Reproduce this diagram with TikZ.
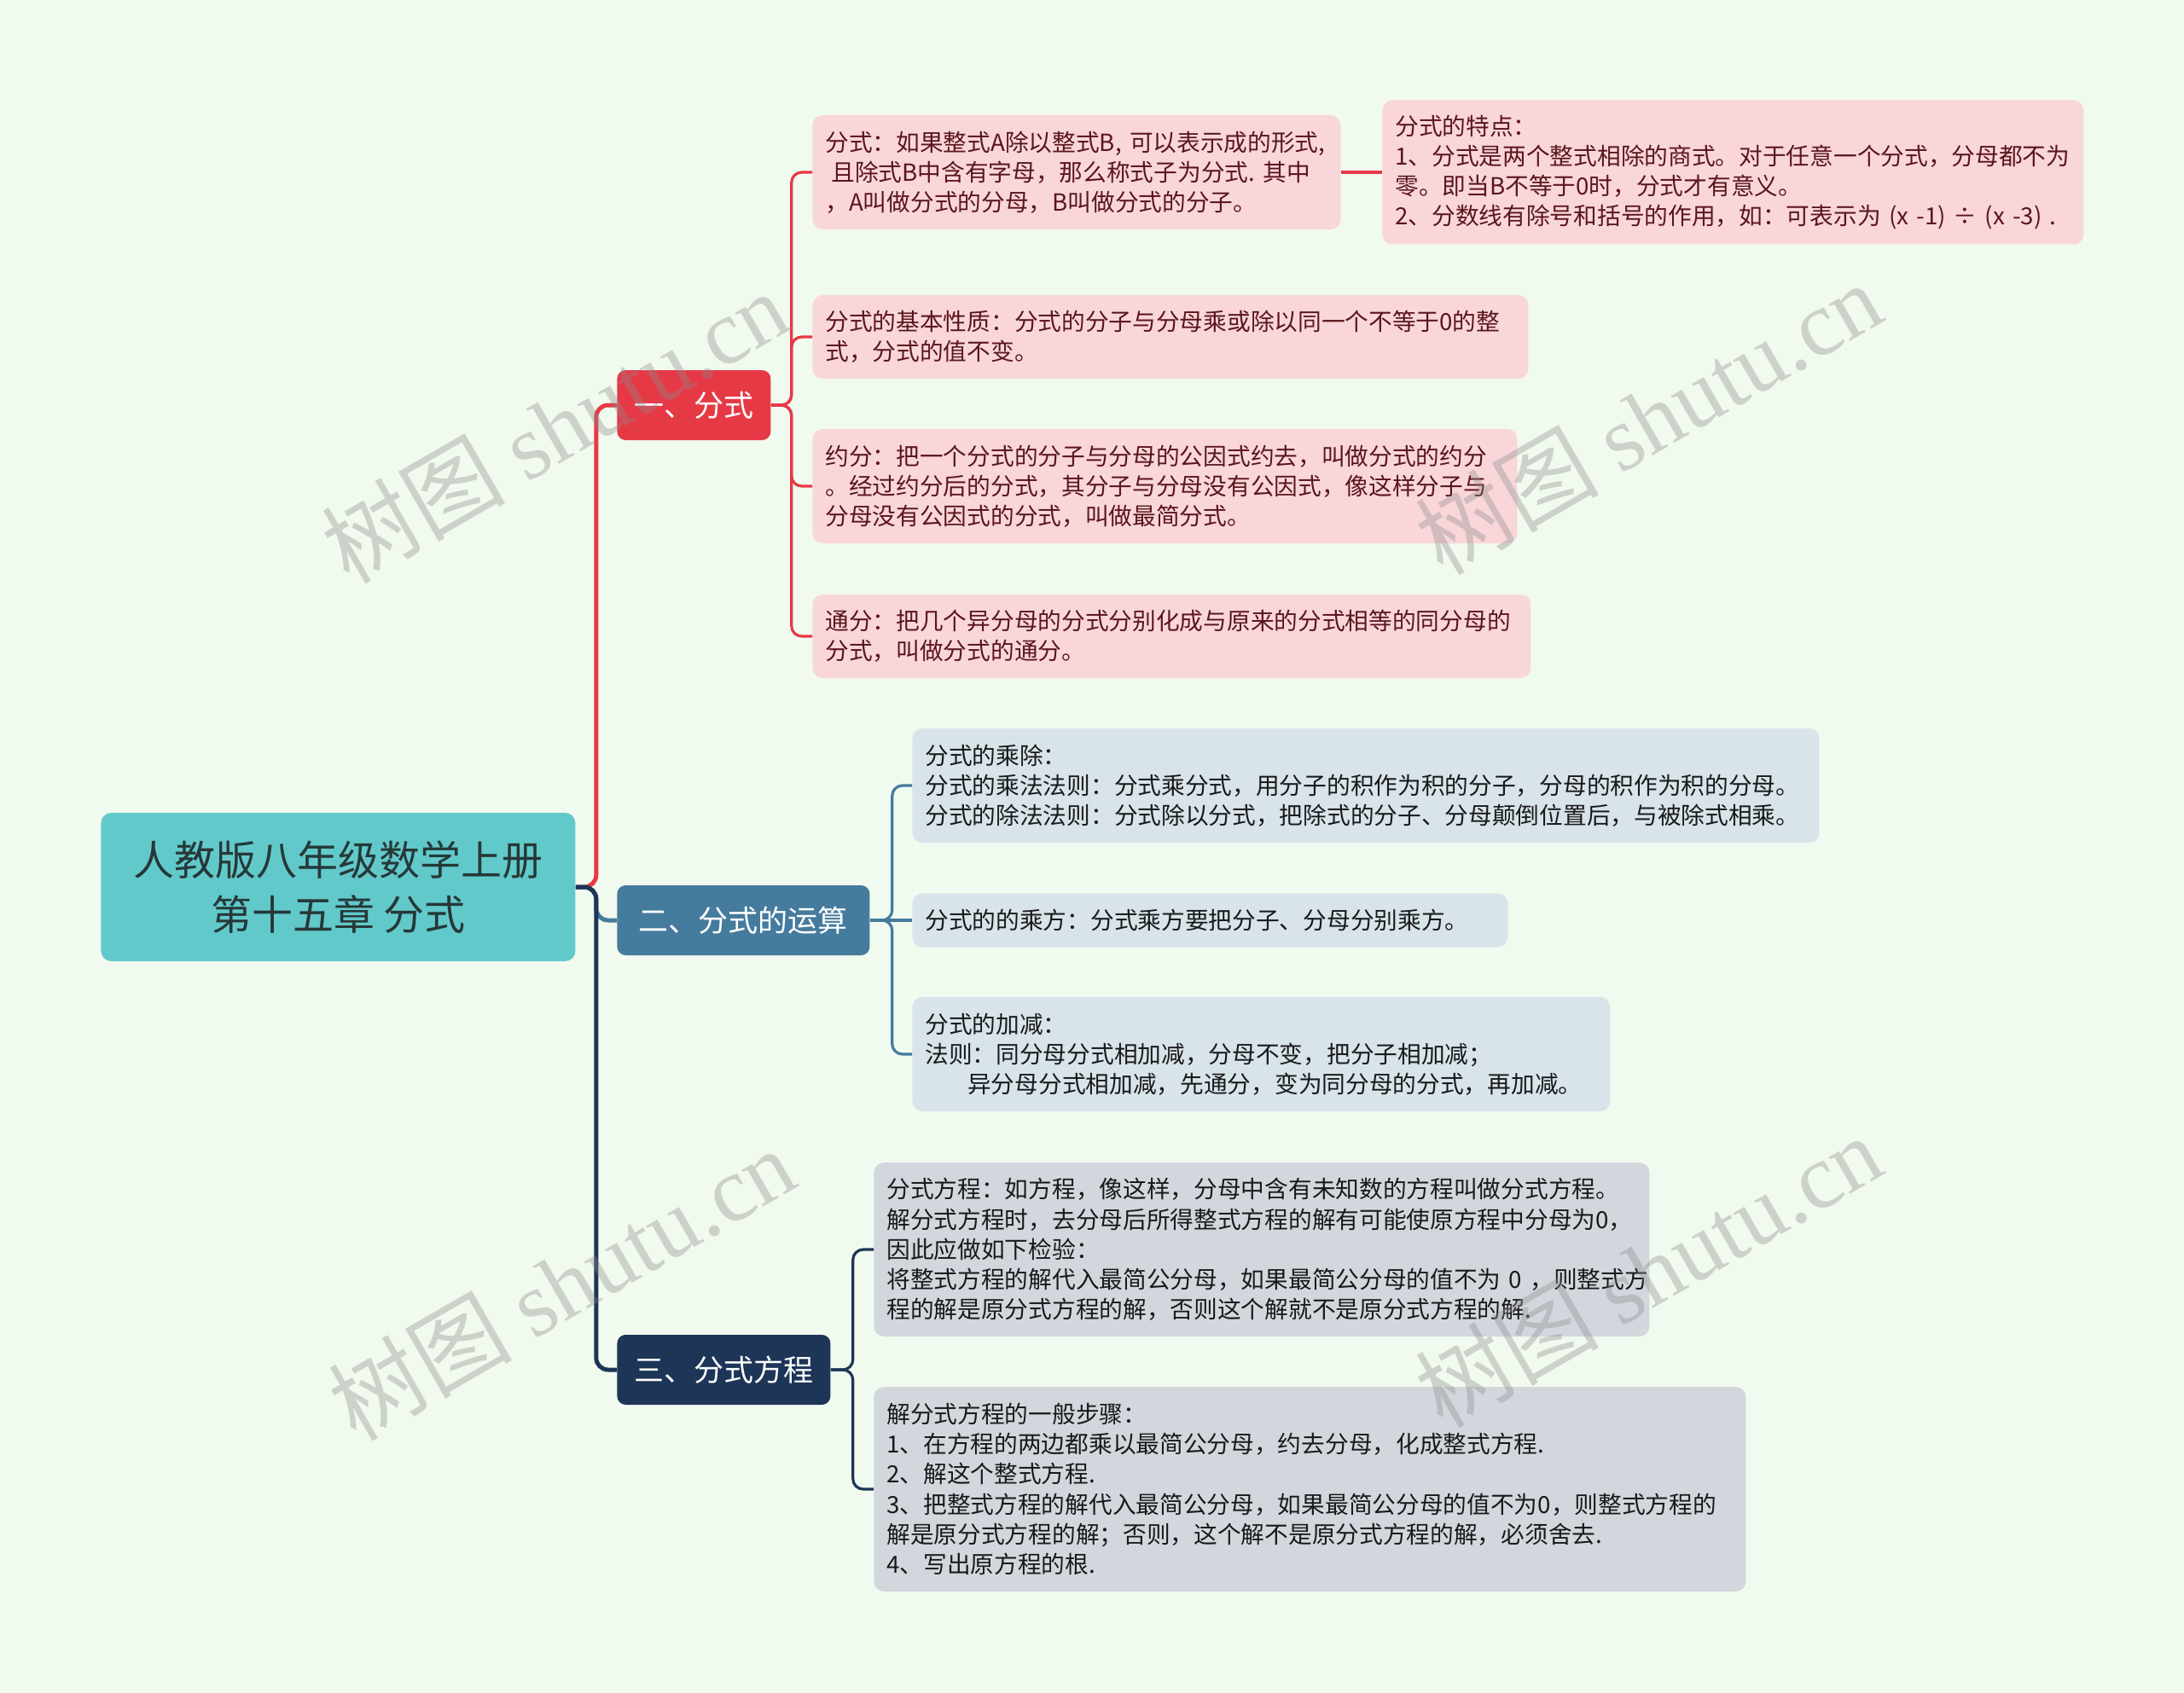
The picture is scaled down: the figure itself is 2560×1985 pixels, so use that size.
\documentclass[tikz,border=0pt]{standalone}
\usepackage{fontspec}
\newfontfamily\cjk{Noto Sans CJK SC}
\newfontfamily\wmserif{Liberation Serif}
\usepackage{xcolor}
\definecolor{bgmint}{HTML}{F1FAEE}
\definecolor{rootteal}{HTML}{62C9CB}
\definecolor{roottext}{HTML}{263838}
\definecolor{topicred}{HTML}{E63946}
\definecolor{topicblue}{HTML}{457B9D}
\definecolor{topicnavy}{HTML}{1D3557}
\definecolor{leafpink}{HTML}{F9D6DA}
\definecolor{leafsky}{HTML}{D8E3EA}
\definecolor{leafslate}{HTML}{D2D7DE}
\definecolor{redtext}{HTML}{5A161C}
\usetikzlibrary{positioning}
\tikzset{
  mainbox/.style={rectangle, rounded corners=6pt, anchor=west, align=center,
    fill=rootteal, text=roottext, font=\cjk\fontsize{24}{32}\selectfont},
  topicbox/.style={rectangle, rounded corners=5pt, anchor=west,
    minimum height=41pt, text=white, font=\cjk\fontsize{17.5}{21}\selectfont},
  leafbox/.style={rectangle, rounded corners=6pt, anchor=west, align=left,
    inner xsep=7.5pt, inner ysep=0pt, font=\cjk\fontsize{13.85}{17.6}\selectfont},
  redleaf/.style={leafbox, fill=leafpink, text=redtext},
  blueleaf/.style={leafbox, fill=leafsky, text=black!90},
  navyleaf/.style={leafbox, fill=leafslate, text=black!90},
  trunk/.style={line width=2.5pt, rounded corners=7pt},
  twig/.style={line width=1.6pt, rounded corners=6pt},
  watermark/.style={rotate=30, text=black!45, opacity=0.36}
}

\begin{document}
\begin{tikzpicture}[x=0.5pt, y=-0.5pt]
  \useasboundingbox (0,0) rectangle (2560,1985);
  \fill[bgmint] (0,0) rectangle (2560,1985);

  % Root
  \node[mainbox, minimum width=278pt, minimum height=87pt] (root) at (118,1040)
    {人教版八年级数学上册\\第十五章 分式};

  % Topics
  \node[topicbox, fill=topicred, minimum width=90pt] (fenshi) at (723,475) {一、分式};
  \node[topicbox, fill=topicblue, minimum width=148pt] (yunsuan) at (723,1079) {二、分式的运算};
  \node[topicbox, fill=topicnavy, minimum width=125pt] (fangcheng) at (723,1606) {三、分式方程};

  % Leaves of topic 1
  \node[redleaf, text width=294.5pt, minimum height=67pt] (dingyi) at (952,202)
    {分式：如果整式A除以整式B,~可以表示成的形式,\\
     \hspace*{0.25em}且除式B中含有字母，那么称式子为分式.~其中\\
     ，A叫做分式的分母，B叫做分式的分子。};
  \node[redleaf, text width=396pt, minimum height=84.5pt] (tedian) at (1620,202)
    {分式的特点：\\
     1、分式是两个整式相除的商式。对于任意一个分式，分母都不为\\
     零。即当B不等于0时，分式才有意义。\\
     2、分数线有除号和括号的作用，如：可表示为~(x~-1)~÷~(x~-3)~.};
  \node[redleaf, text width=404.5pt, minimum height=49pt] (xingzhi) at (952,395)
    {分式的基本性质：分式的分子与分母乘或除以同一个不等于0的整\\
     式，分式的值不变。};
  \node[redleaf, text width=398pt, minimum height=67pt] (yuefen) at (952,570)
    {约分：把一个分式的分子与分母的公因式约去，叫做分式的约分\\
     。经过约分后的分式，其分子与分母没有公因式，像这样分子与\\
     分母没有公因式的分式，叫做最简分式。};
  \node[redleaf, text width=406pt, minimum height=49pt] (tongfen) at (952,746)
    {通分：把几个异分母的分式分别化成与原来的分式相等的同分母的\\
     分式，叫做分式的通分。};

  % Leaves of topic 2
  \node[blueleaf, text width=516.5pt, minimum height=67pt] (chengchu) at (1069,921)
    {分式的乘除：\\
     分式的乘法法则：分式乘分式，用分子的积作为积的分子，分母的积作为积的分母。\\
     分式的除法法则：分式除以分式，把除式的分子、分母颠倒位置后，与被除式相乘。};
  \node[blueleaf, text width=334pt, minimum height=31.5pt] (chengfang) at (1069,1079)
    {分式的的乘方：分式乘方要把分子、分母分别乘方。};
  \node[blueleaf, text width=394pt, minimum height=67pt] (jiajian) at (1069,1236)
    {分式的加减：\\
     法则：同分母分式相加减，分母不变，把分子相加减；\\
     \hspace*{1.8em}异分母分式相加减，先通分，变为同分母的分式，再加减。};

  % Leaves of topic 3
  \node[navyleaf, text width=439.5pt, minimum height=102pt] (jianyan) at (1024,1465)
    {分式方程：如方程，像这样，分母中含有未知数的方程叫做分式方程。\\
     解分式方程时，去分母后所得整式方程的解有可能使原方程中分母为0，\\
     因此应做如下检验：\\
     将整式方程的解代入最简公分母，如果最简公分母的值不为~0~，则整式方\\
     程的解是原分式方程的解，否则这个解就不是原分式方程的解.};
  \node[navyleaf, text width=496pt, minimum height=120pt] (buzhou) at (1024,1746)
    {解分式方程的一般步骤：\\
     1、在方程的两边都乘以最简公分母，约去分母，化成整式方程.\\
     2、解这个整式方程.\\
     3、把整式方程的解代入最简公分母，如果最简公分母的值不为0，则整式方程的\\
     解是原分式方程的解；否则，这个解不是原分式方程的解，必须舍去.\\
     4、写出原方程的根.};

  % Connectors
  \draw[trunk, topicred] (root.east) -- ++(12pt,0) |- (fenshi.west);
  \draw[trunk, topicblue] (root.east) -- ++(12pt,0) |- (yunsuan.west);
  \draw[trunk, topicnavy] (root.east) -- ++(12pt,0) |- (fangcheng.west);

  \foreach \leaf in {dingyi, xingzhi, yuefen, tongfen}
    \draw[twig, topicred] (fenshi.east) -- ++(12pt,0) |- (\leaf.west);
  \draw[twig, topicred] (dingyi.east) -- (tedian.west);
  \foreach \leaf in {chengchu, jiajian}
    \draw[twig, topicblue] (yunsuan.east) -- ++(13pt,0) |- (\leaf.west);
  \draw[twig, topicblue] (yunsuan.east) -- (chengfang.west);
  \foreach \leaf in {jianyan, buzhou}
    \draw[twig, topicnavy] (fangcheng.east) -- ++(13pt,0) |- (\leaf.west);

  % Watermarks
  \foreach \n/\x/\y in {1/650/500, 2/1932/490, 3/658/1505, 4/1932/1490}
    \node[watermark] (wm\n) at (\x,\y)
      {\cjk\fontsize{54}{54}\selectfont 树图 \wmserif shutu.cn};
\end{tikzpicture}
\end{document}
